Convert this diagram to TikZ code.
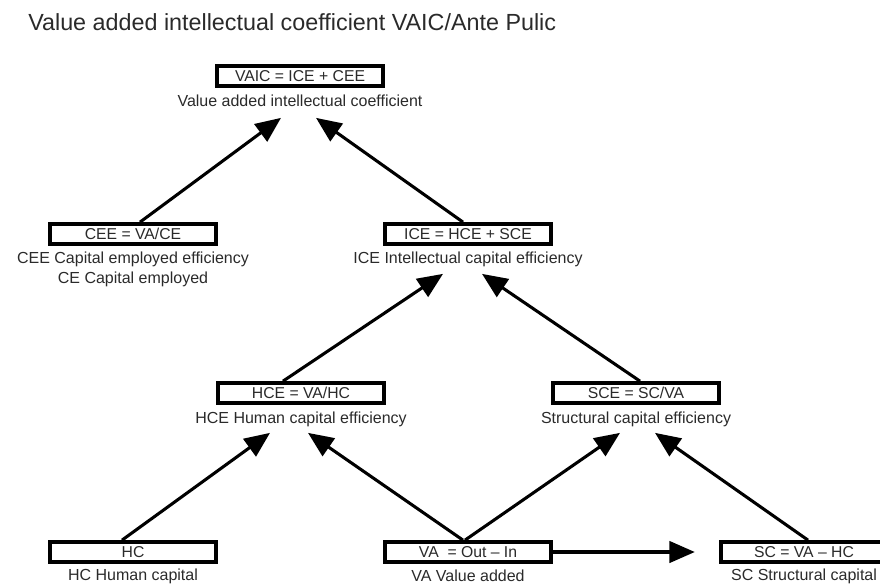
\documentclass[tikz,border=0pt]{standalone}
\usepackage{fontspec}
\setmainfont{Liberation Sans}
\usetikzlibrary{arrows.meta,calc}
\definecolor{ink}{HTML}{2A2A2A}
\begin{document}
\begin{tikzpicture}[x=0.75pt,y=-0.75pt,
  box/.style={draw=black, line width=2.8pt, minimum width=125pt, minimum height=15pt,
    inner sep=0pt, fill=white, font=\fontsize{11.8}{13}\selectfont, text=ink},
  lbl/.style={font=\fontsize{12}{15}\selectfont, text=ink, align=center, inner sep=0pt},
  conn/.style={draw=black, line width=2.3pt, -{Triangle[length=19pt,width=16pt]}}]
\useasboundingbox (0,0) rectangle (880,585);
\clip (0,0) rectangle (880,585);

% heading
\node[anchor=base west, inner sep=0pt, text=ink, font=\fontsize{17.5}{20}\selectfont]
  (title) at (28,31) {Value added intellectual coefficient VAIC/Ante Pulic};

% formula boxes
\node[box] (vaic) at (300,76)  {VAIC = ICE + CEE};
\node[box] (cee)  at (133,234) {CEE = VA/CE};
\node[box] (ice)  at (468,234) {ICE = HCE + SCE};
\node[box] (hce)  at (301,393) {HCE = VA/HC};
\node[box] (sce)  at (636,393) {SCE = SC/VA};
\node[box] (hc)   at (133,552) {HC};
\node[box] (va)   at (468,552) {VA \ = Out -- In};
\node[box] (sc)   at (804,552) {SC = VA -- HC};

% captions under the boxes
\node[lbl] (vaicl) at (300,101) {Value added intellectual coefficient};
\node[lbl] (ceel)  at (133,269) {CEE Capital employed efficiency\\CE Capital employed};
\node[lbl] (icel)  at (468,259) {ICE Intellectual capital efficiency};
\node[lbl] (hcel)  at (301,419) {HCE Human capital efficiency};
\node[lbl] (scel)  at (636,419) {Structural capital efficiency};
\node[lbl] (hcl)   at (133,576) {HC Human capital};
\node[lbl] (val)   at (468,576) {VA Value added};
\node[lbl] (scl)   at (804,576) {SC Structural capital};

% connectors
\draw[conn] ($(cee.north)+(7,0)$)  -- ($(vaic.south)+(-19,30)$);
\draw[conn] ($(ice.north)+(-5,0)$) -- ($(vaic.south)+(16,30)$);
\draw[conn] ($(hce.north)+(-18,0)$) -- ($(ice.south)+(-25,28)$);
\draw[conn] ($(sce.north)+(4,0)$)  -- ($(ice.south)+(14,28)$);
\draw[conn] ($(hc.north)+(-11,0)$) -- ($(hce.south)+(-31,28)$);
\draw[conn] ($(va.north)+(-5,0)$)  -- ($(hce.south)+(7,28)$);
\draw[conn] ($(va.north)+(-3,0)$)  -- ($(sce.south)+(-16,28)$);
\draw[conn] ($(sc.north)+(4,0)$)   -- ($(sce.south)+(19,28)$);
\draw[conn] (va.east) -- ($(sc.west)+(-24,0)$);
\end{tikzpicture}
\end{document}
